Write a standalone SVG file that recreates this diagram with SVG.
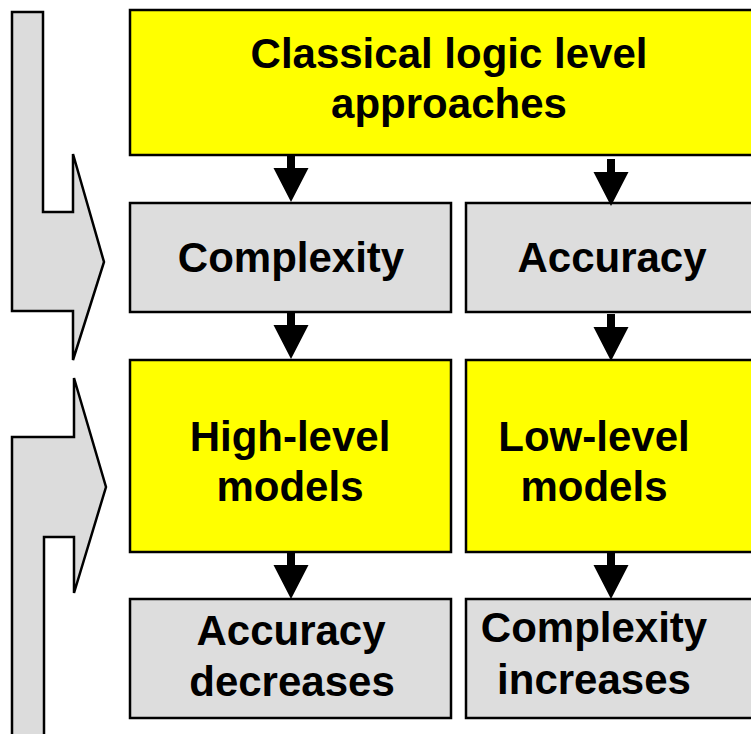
<svg xmlns="http://www.w3.org/2000/svg" width="751" height="734" viewBox="0 0 751 734">
  <style>
    .yel { fill: #FFFF00; stroke: #000; stroke-width: 2.5; }
    .gry { fill: #DDDDDD; stroke: #000; stroke-width: 2.5; }
    .big { fill: #DCDCDC; stroke: #000; stroke-width: 2.5; stroke-linejoin: miter; }
    .lbl { font-family: "Liberation Sans", Arial, sans-serif; font-weight: bold; font-size: 42px; fill: #000; text-anchor: middle; }
  </style>
  <defs>
    <path id="arw" d="M-4,0 H4 V13 H17.5 L0,47 L-17.5,13 H-4 Z" fill="#000"/>
  </defs>
  <rect width="751" height="734" fill="#fff"/>

  <g id="side-arrows">
    <polygon class="big" points="12,12 43,12 43,212 73,212 73,154 104,262 73,360 73,311 12,311"/>
    <polygon class="big" points="12,740 12,437 74,437 74,378 106,487 74,593 74,537 44,537 44,740"/>
  </g>

  <g id="node-classical">
    <rect class="yel" x="130" y="10" width="640" height="145"/>
    <text class="lbl" x="449" y="68">Classical logic level</text>
    <text class="lbl" x="449" y="118">approaches</text>
  </g>
  <g id="node-complexity">
    <rect class="gry" x="130" y="203" width="321" height="109"/>
    <text class="lbl" x="291" y="272">Complexity</text>
  </g>
  <g id="node-accuracy">
    <rect class="gry" x="466" y="203" width="300" height="109"/>
    <text class="lbl" x="612" y="272">Accuracy</text>
  </g>
  <g id="node-highlevel">
    <rect class="yel" x="130" y="360" width="321" height="192"/>
    <text class="lbl" x="290" y="451">High-level</text>
    <text class="lbl" x="290" y="501">models</text>
  </g>
  <g id="node-lowlevel">
    <rect class="yel" x="466" y="360" width="300" height="192"/>
    <text class="lbl" x="594" y="451">Low-level</text>
    <text class="lbl" x="594" y="501">models</text>
  </g>
  <g id="node-accdec">
    <rect class="gry" x="130" y="599" width="321" height="119"/>
    <text class="lbl" x="291" y="645">Accuracy</text>
    <text class="lbl" x="292" y="696">decreases</text>
  </g>
  <g id="node-compinc">
    <rect class="gry" x="466" y="599" width="300" height="119"/>
    <text class="lbl" x="594" y="642">Complexity</text>
    <text class="lbl" x="594" y="694">increases</text>
  </g>

  <g id="connectors">
    <use href="#arw" transform="translate(291,155)"/>
    <use href="#arw" transform="translate(611,159)"/>
    <use href="#arw" transform="translate(291,312)"/>
    <use href="#arw" transform="translate(611,314)"/>
    <use href="#arw" transform="translate(291,552)"/>
    <use href="#arw" transform="translate(611,552)"/>
  </g>
</svg>
